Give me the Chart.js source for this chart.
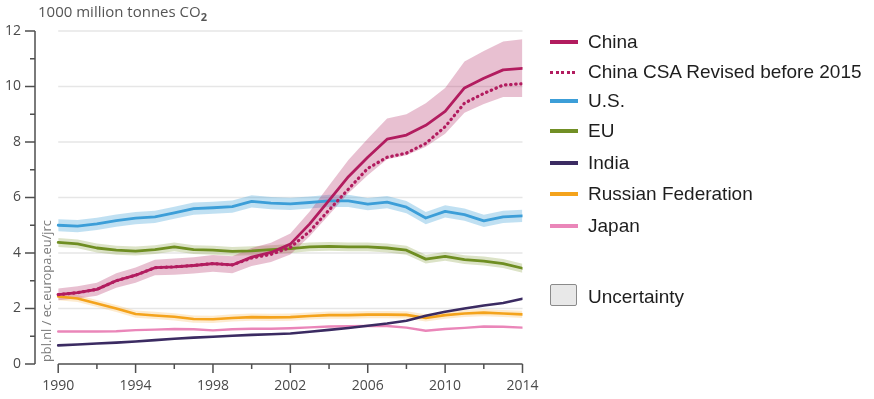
<!DOCTYPE html>
<html>
<head>
<meta charset="utf-8">
<script src="https://cdn.jsdelivr.net/npm/chart.js@4.4.1/dist/chart.umd.min.js"></script>
<style>
  html, body { margin: 0; padding: 0; background: #fff; }
  #wrap { position: relative; width: 874px; height: 399px; overflow: hidden; }
  #chart { position: absolute; left: 0; top: 0; }
  .title { position: absolute; left: 38px; top: 1px; font: 15px "Open Sans", sans-serif; color: #555; white-space: nowrap; }
  .title sub { font-size: 11px; font-weight: 700; vertical-align: -4px; line-height: 0; }
  .legend { position: absolute; left: 550px; top: 0; font: 19px "Liberation Sans", Arial, sans-serif; color: #1e1e1e; }
  .item { position: absolute; left: 0; height: 24px; line-height: 24px; white-space: nowrap; }
  .item .swatch { position: absolute; left: 0; top: 10px; width: 28px; height: 4px; }
  .item .swatch.dots { top: 10.5px; height: 3px; }
  .item .swatch.box { top: -1px; width: 27px; height: 22px; background: #e8e8e8; border: 1px solid #8a8a8a; border-radius: 2px; box-sizing: border-box; }
  .item .label { position: absolute; left: 38px; top: 0; }
</style>
</head>
<body>
<div id="wrap">
  <canvas id="chart" width="874" height="399"></canvas>
  <div class="title">1000 million tonnes CO<sub>2</sub></div>
  <div class="legend" id="legend"></div>
</div>
<script>
// Yearly emissions, in 1000 million tonnes CO2
const years = [1990, 1991, 1992, 1993, 1994, 1995, 1996, 1997, 1998, 1999, 2000, 2001, 2002,
               2003, 2004, 2005, 2006, 2007, 2008, 2009, 2010, 2011, 2012, 2013, 2014];

const china      = [2.5, 2.57, 2.69, 3.0, 3.2, 3.47, 3.5, 3.55, 3.62, 3.57, 3.85, 4.02, 4.32,
                    5.05, 5.9, 6.75, 7.45, 8.1, 8.25, 8.6, 9.1, 9.95, 10.3, 10.6, 10.65];
const chinaUpper = [2.72, 2.8, 2.93, 3.27, 3.48, 3.76, 3.8, 3.85, 3.93, 3.88, 4.18, 4.37, 4.7,
                    5.5, 6.43, 7.35, 8.12, 8.85, 9.0, 9.4, 9.95, 10.9, 11.28, 11.62, 11.7];
const chinaLower = [2.3, 2.36, 2.46, 2.75, 2.93, 3.2, 3.22, 3.26, 3.32, 3.27, 3.53, 3.68, 3.95,
                    4.6, 5.38, 6.15, 6.8, 7.38, 7.52, 7.83, 8.3, 9.05, 9.37, 9.62, 9.62];
const chinaCsa   = [2.5, 2.57, 2.69, 3.0, 3.2, 3.47, 3.5, 3.55, 3.62, 3.57, 3.82, 3.95, 4.2,
                    4.78, 5.55, 6.3, 7.05, 7.45, 7.6, 7.95, 8.55, 9.4, 9.75, 10.05, 10.1];

const us      = [5.0, 4.97, 5.05, 5.17, 5.26, 5.3, 5.45, 5.6, 5.63, 5.67, 5.86, 5.8, 5.77,
                 5.82, 5.88, 5.88, 5.76, 5.83, 5.65, 5.26, 5.5, 5.38, 5.16, 5.3, 5.34];
const usUpper = [5.22, 5.19, 5.27, 5.39, 5.48, 5.52, 5.67, 5.82, 5.85, 5.89, 6.08, 6.02, 5.99,
                 6.04, 6.1, 6.1, 5.98, 6.05, 5.87, 5.48, 5.72, 5.6, 5.38, 5.52, 5.56];
const usLower = [4.78, 4.75, 4.83, 4.95, 5.04, 5.08, 5.23, 5.38, 5.41, 5.45, 5.64, 5.58, 5.55,
                 5.6, 5.66, 5.66, 5.54, 5.61, 5.43, 5.04, 5.28, 5.16, 4.94, 5.08, 5.12];

const eu      = [4.38, 4.33, 4.18, 4.1, 4.07, 4.12, 4.22, 4.12, 4.1, 4.06, 4.08, 4.12, 4.16,
                 4.22, 4.24, 4.22, 4.22, 4.18, 4.1, 3.78, 3.88, 3.76, 3.71, 3.62, 3.45];
const euUpper = [4.54, 4.49, 4.34, 4.26, 4.23, 4.28, 4.38, 4.28, 4.26, 4.22, 4.24, 4.28, 4.32,
                 4.38, 4.4, 4.38, 4.38, 4.34, 4.26, 3.94, 4.04, 3.92, 3.87, 3.78, 3.61];
const euLower = [4.22, 4.17, 4.02, 3.94, 3.91, 3.96, 4.06, 3.96, 3.94, 3.9, 3.92, 3.96, 4.0,
                 4.06, 4.08, 4.06, 4.06, 4.02, 3.94, 3.62, 3.72, 3.6, 3.55, 3.46, 3.29];

const india = [0.67, 0.7, 0.74, 0.77, 0.81, 0.86, 0.91, 0.95, 0.98, 1.02, 1.05, 1.07, 1.1,
               1.16, 1.23, 1.3, 1.38, 1.46, 1.56, 1.74, 1.88, 2.0, 2.11, 2.2, 2.35];

const russia      = [2.43, 2.36, 2.18, 2.0, 1.8, 1.75, 1.7, 1.62, 1.61, 1.66, 1.69, 1.68, 1.69,
                     1.73, 1.76, 1.76, 1.78, 1.78, 1.77, 1.66, 1.76, 1.82, 1.85, 1.82, 1.79];
const russiaUpper = [2.56, 2.49, 2.31, 2.13, 1.93, 1.88, 1.83, 1.75, 1.74, 1.79, 1.82, 1.81, 1.82,
                     1.86, 1.89, 1.89, 1.91, 1.91, 1.9, 1.79, 1.89, 1.95, 1.98, 1.95, 1.92];
const russiaLower = [2.3, 2.23, 2.05, 1.87, 1.67, 1.62, 1.57, 1.49, 1.48, 1.53, 1.56, 1.55, 1.56,
                     1.6, 1.63, 1.63, 1.65, 1.65, 1.64, 1.53, 1.63, 1.69, 1.72, 1.69, 1.66];

const japan = [1.17, 1.17, 1.17, 1.18, 1.22, 1.24, 1.26, 1.25, 1.21, 1.25, 1.27, 1.27, 1.29,
               1.32, 1.35, 1.36, 1.37, 1.37, 1.31, 1.2, 1.26, 1.3, 1.35, 1.34, 1.31];

// Axis ticks
const xLabelYears = [1990, 1994, 1998, 2002, 2006, 2010, 2014];
const xMinorYears = [1992, 1996, 2000, 2004, 2008, 2012];
const yLabels = [0, 2, 4, 6, 8, 10, 12];
const yMinor = [1, 3, 5, 7, 9, 11];
const gridValues = [2, 4, 6, 8, 10, 12];

const legendItems = [
  { label: 'China', color: '#b21c5f', top: 30 },
  { label: 'China CSA Revised before 2015', color: '#b21c5f', dotted: true, top: 60 },
  { label: 'U.S.', color: '#3c9ed8', top: 89 },
  { label: 'EU', color: '#718f25', top: 119 },
  { label: 'India', color: '#3b2b62', top: 151 },
  { label: 'Russian Federation', color: '#f4a31c', top: 182 },
  { label: 'Japan', color: '#ea86b9', top: 214 },
  { label: 'Uncertainty', box: true, top: 285 }
];

const pts = arr => arr.map((v, i) => ({ x: years[i], y: v }));

function line(label, data, color, width, extra) {
  return Object.assign({
    label, data: pts(data), borderColor: color, borderWidth: width,
    pointRadius: 0, tension: 0, fill: false, order: 0,
    borderJoinStyle: 'round', borderCapStyle: 'round'
  }, extra || {});
}
function band(lower, upper, color) {
  return [
    { label: 'lower', data: pts(lower), borderWidth: 0, borderColor: 'transparent',
      pointRadius: 0, tension: 0, fill: false, order: 1 },
    { label: 'upper', data: pts(upper), borderWidth: 0, borderColor: 'transparent',
      backgroundColor: color, pointRadius: 0, tension: 0, fill: '-1', order: 1 }
  ];
}

const datasets = [
  line('China', china, '#b21c5f', 2.8),
  line('China CSA Revised before 2015', chinaCsa, '#b21c5f', 3.2,
       { borderDash: [0.5, 4.6], borderCapStyle: 'round' }),
  line('U.S.', us, '#3c9ed8', 2.8),
  line('EU', eu, '#6f8e22', 2.8),
  line('India', india, '#3b2b62', 2.6),
  line('Russian Federation', russia, '#f4a31c', 2.6),
  line('Japan', japan, '#ea86b9', 2.4),
  ...band(chinaLower, chinaUpper, 'rgba(178,48,104,0.30)'),
  ...band(usLower, usUpper, 'rgba(60,160,215,0.32)'),
  ...band(euLower, euUpper, 'rgba(118,145,40,0.26)'),
  ...band(russiaLower, russiaUpper, 'rgba(245,165,35,0.22)')
];

// Grid lines, axis lines with major/minor ticks, and the source credit
const axisDecor = {
  id: 'axisDecor',
  beforeDatasetsDraw(chart) {
    const { ctx, scales: { x, y } } = chart;
    const x0 = x.getPixelForValue(years[0]);
    const x1 = x.getPixelForValue(years[years.length - 1]);
    ctx.save();
    ctx.strokeStyle = '#e6e6e6';
    ctx.lineWidth = 1.5;
    gridValues.forEach(v => {
      const py = y.getPixelForValue(v);
      ctx.beginPath(); ctx.moveTo(x0, py); ctx.lineTo(x1, py); ctx.stroke();
    });
    ctx.restore();
  },
  afterDraw(chart) {
    const { ctx, chartArea, scales: { x, y } } = chart;
    const ax = chartArea.left;
    const ay = y.getPixelForValue(0);
    const x0 = x.getPixelForValue(years[0]);
    const x1 = x.getPixelForValue(years[years.length - 1]);
    ctx.save();
    ctx.strokeStyle = '#4f4f4f';
    ctx.lineWidth = 1.5;
    ctx.lineCap = 'butt';
    ctx.beginPath();
    ctx.moveTo(ax, y.getPixelForValue(12)); ctx.lineTo(ax, ay);
    yLabels.forEach(v => { const py = y.getPixelForValue(v); ctx.moveTo(ax - 10, py); ctx.lineTo(ax, py); });
    yMinor.forEach(v => { const py = y.getPixelForValue(v); ctx.moveTo(ax - 5, py); ctx.lineTo(ax, py); });
    ctx.moveTo(x0, ay); ctx.lineTo(x1, ay);
    xLabelYears.forEach(v => { const px = x.getPixelForValue(v); ctx.moveTo(px, ay); ctx.lineTo(px, ay + 9); });
    xMinorYears.forEach(v => { const px = x.getPixelForValue(v); ctx.moveTo(px, ay); ctx.lineTo(px, ay + 5); });
    ctx.stroke();

    ctx.translate(ax + 12, ay - 2);
    ctx.rotate(-Math.PI / 2);
    ctx.font = '12.8px "Open Sans"';
    ctx.fillStyle = '#7c7c7c';
    ctx.textAlign = 'left';
    ctx.textBaseline = 'middle';
    ctx.fillText('pbl.nl / ec.europa.eu/jrc', 0, 0);
    ctx.restore();
  }
};

new Chart(document.getElementById('chart'), {
  type: 'line',
  data: { datasets },
  plugins: [axisDecor],
  options: {
    responsive: false,
    animation: false,
    devicePixelRatio: 1,
    layout: { padding: { left: 0, top: 31, right: 351.5, bottom: 0 } },
    plugins: { legend: { display: false }, tooltip: { enabled: false } },
    scales: {
      x: {
        type: 'linear', min: 1988.8, max: 2014,
        afterFit(s) { s.height = 35; },
        afterBuildTicks(s) { s.ticks = xLabelYears.map(v => ({ value: v })); },
        grid: { display: false, drawTicks: false },
        border: { display: false },
        ticks: {
          callback: v => String(v), autoSkip: false, maxRotation: 0,
          font: { family: 'Open Sans', size: 14 }, color: '#4a4a4a', padding: 14
        }
      },
      y: {
        type: 'linear', min: 0, max: 12,
        afterFit(s) { s.width = 35; },
        afterBuildTicks(s) { s.ticks = yLabels.map(v => ({ value: v })); },
        grid: { display: false, drawTicks: false },
        border: { display: false },
        ticks: { font: { family: 'Open Sans', size: 14 }, color: '#4a4a4a', padding: 14 }
      }
    }
  }
});

// Legend
const legendEl = document.getElementById('legend');
legendItems.forEach(it => {
  const row = document.createElement('div');
  row.className = 'item';
  row.style.top = it.top + 'px';
  const sw = document.createElement('span');
  if (it.box) {
    sw.className = 'swatch box';
  } else if (it.dotted) {
    sw.className = 'swatch dots';
    sw.style.background = `repeating-linear-gradient(to right, ${it.color} 0 3px, transparent 3px 5.6px)`;
  } else {
    sw.className = 'swatch';
    sw.style.background = it.color;
  }
  const lb = document.createElement('span');
  lb.className = 'label';
  lb.textContent = it.label;
  row.appendChild(sw);
  row.appendChild(lb);
  legendEl.appendChild(row);
});
</script>
</body>
</html>
